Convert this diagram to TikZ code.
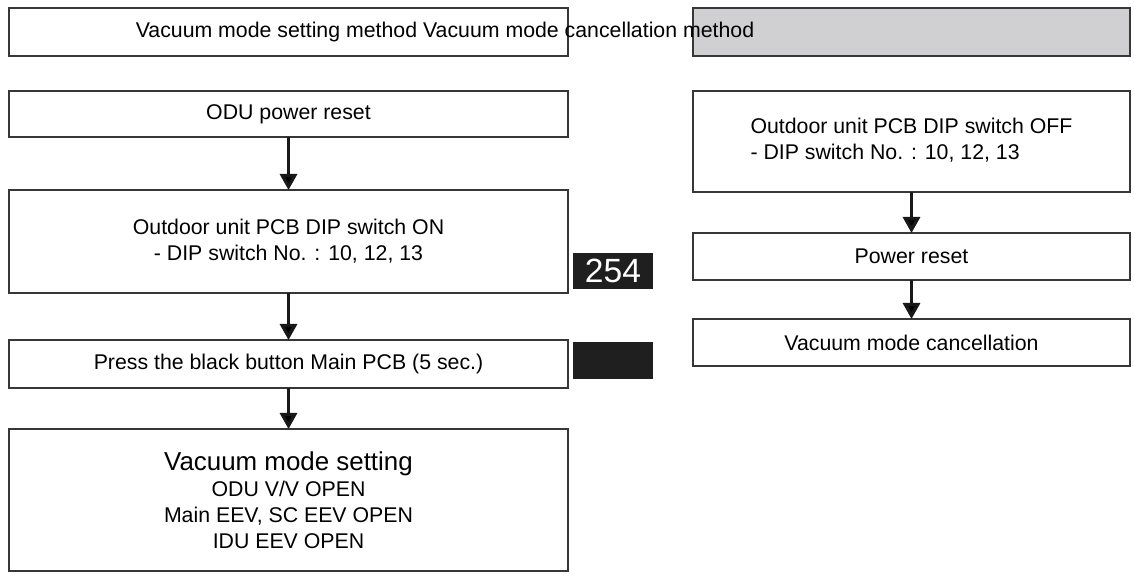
\documentclass[tikz,border=0pt]{standalone}
\usepackage{fontspec}
\setmainfont{Liberation Sans}
\usepackage{tikz}
\usetikzlibrary{positioning, arrows.meta}
\definecolor{headgray}{RGB}{208,208,210}
\definecolor{framegray}{RGB}{55,55,55}

\begin{document}
\begin{tikzpicture}[x=0.5pt,y=-0.5pt,
        stepbox/.style={draw=framegray,line width=0.9pt,minimum width=279.5pt,inner sep=0pt,outer sep=0pt,
          align=center,font=\fontsize{10.65pt}{13pt}\selectfont},
        sidebox/.style={stepbox,minimum width=218.5pt},
        display/.style={fill=black!88,minimum width=40pt,inner sep=0pt,text=white},
        flow/.style={-{Triangle[width=8.5pt,length=8pt]},line width=1.6pt,draw=black!90}]
        \useasboundingbox (0,0) rectangle (1134,576);
        \node[stepbox,minimum height=24pt,anchor=north west] (set_head) at (9,8) {};
        \node[sidebox,fill=headgray,minimum height=24pt,anchor=north west] (cancel_head) at (693,8) {};
        \node[font=\fontsize{10.65pt}{13pt}\selectfont] (heading) at (445,32) {Vacuum mode setting method Vacuum mode cancellation method};
        \node[stepbox,minimum height=23pt,anchor=north west] (odu) at (9,91) {ODU power reset};
        \node[stepbox,minimum height=51.5pt](dip_on) [below=26.5pt of odu] {Outdoor unit PCB DIP switch ON\\- DIP switch No. : 10, 12, 13};
        \node[stepbox,minimum height=24pt](press) [below=23.5pt of dip_on] {Press the black button Main PCB (5 sec.)};
        \node[stepbox,minimum height=71pt](vac_set) [below=20.5pt of press] {{\fontsize{12.95pt}{15pt}\selectfont Vacuum mode setting}\\ODU V/V OPEN\\Main EEV, SC EEV OPEN\\IDU EEV OPEN};
        \node[sidebox,minimum height=50.5pt,anchor=north west] (dip_off) at (693,91) {\begin{tabular}{@{}l@{}}Outdoor unit PCB DIP switch OFF\\- DIP switch No. : 10, 12, 13\end{tabular}};
        \node[sidebox,minimum height=23.5pt](reset) [below=20.5pt of dip_off] {Power reset};
        \node[sidebox,minimum height=23.5pt](vac_cancel) [below=19.5pt of reset] {Vacuum mode cancellation};
        \node[display,minimum height=18pt,font=\fontsize{16.8pt}{17pt}\selectfont] (code) at (613,271) {254};
        \node[display,minimum height=18.5pt] (blank) at (613,360.5) {};
        \path[flow]
        (odu) edge (dip_on)
        (dip_on) edge (press)
        (press) edge (vac_set)
        (dip_off) edge (reset)
        (reset) edge (vac_cancel);
      \end{tikzpicture}
\end{document}
